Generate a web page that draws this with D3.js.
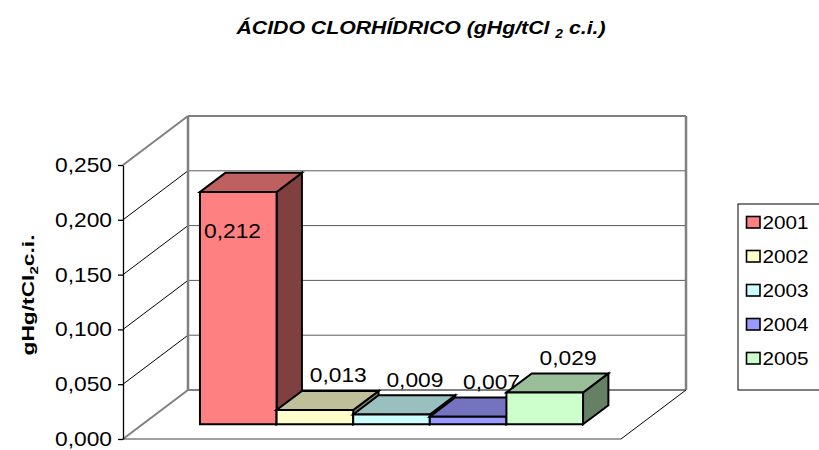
<!DOCTYPE html>
<html>
<head>
<meta charset="utf-8">
<script src="https://cdn.jsdelivr.net/npm/d3@7"></script>
<style>
  html, body { margin: 0; padding: 0; background: #fff; }
  svg { display: block; font-family: "Liberation Sans", Arial, sans-serif; }
</style>
</head>
<body>
<svg id="chart" width="819" height="450"></svg>
<script>
// Series (one per year) for the single category
const years = ["2001", "2002", "2003", "2004", "2005"];
const values = [0.212, 0.013, 0.009, 0.007, 0.029];
const valueLabels = ["0,212", "0,013", "0,009", "0,007", "0,029"];
const frontColors = ["#FF8080", "#FFFFCC", "#CCFFFF", "#9999FF", "#CCFFCC"];
const yTicks = [0, 0.05, 0.1, 0.15, 0.2, 0.25];
const yTickLabels = ["0,000", "0,050", "0,100", "0,150", "0,200", "0,250"];
const category = ["HCl"];

const svg = d3.select("#chart");
const textStretch = 1.14;

// 3D box geometry: front plane plus a depth vector
const depthVec = [65, -49];
const y = d3.scaleLinear().domain([0, 0.25]).range([439, 165]);
const xCat = d3.scaleBand().domain(category).range([123, 621]).paddingOuter(0.15).paddingInner(0);
const xSer = d3.scaleBand().domain(years)
  .range([xCat(category[0]), xCat(category[0]) + xCat.bandwidth()]).padding(0);
const depth = d3.scaleLinear().domain([0, 1]).range([0, 1]);
const barFront = depth(0.30), barBack = depth(0.69), labelDepth = depth(0.66);

const proj = (x, v, f) => [x + f * depthVec[0], y(v) + f * depthVec[1]];
const pts = arr => arr.map(p => p.join(",")).join(" ");
const shade = (c, k) => { const r = d3.rgb(c); return d3.rgb(r.r * k, r.g * k, r.b * k).formatHex(); };

const x0 = 123, x1 = 621;
const wallGray = "#808080";

// Back wall
svg.append("polygon")
  .attr("points", pts([proj(x0, 0, 1), proj(x1, 0, 1), proj(x1, 0.25, 1), proj(x0, 0.25, 1)]))
  .attr("fill", "#fff");

// Back wall gridlines and side wall lines
yTicks.forEach(v => {
  const edge = (v === 0 || v === 0.25);
  svg.append("line")
    .attr("x1", proj(x0, v, 1)[0]).attr("y1", proj(x0, v, 1)[1])
    .attr("x2", proj(x1, v, 1)[0]).attr("y2", proj(x1, v, 1)[1])
    .attr("stroke", edge ? wallGray : "#5a5a5a")
    .attr("stroke-width", edge ? 2 : 1);
  svg.append("line")
    .attr("x1", proj(x0, v, 0)[0]).attr("y1", proj(x0, v, 0)[1])
    .attr("x2", proj(x0, v, 1)[0]).attr("y2", proj(x0, v, 1)[1])
    .attr("stroke", edge ? wallGray : "#000")
    .attr("stroke-width", edge ? 2 : 1);
});
// Back wall vertical edges
[x0, x1].forEach(xx => {
  svg.append("line")
    .attr("x1", proj(xx, 0, 1)[0]).attr("y1", proj(xx, 0, 1)[1])
    .attr("x2", proj(xx, 0.25, 1)[0]).attr("y2", proj(xx, 0.25, 1)[1])
    .attr("stroke", wallGray).attr("stroke-width", 2.5);
});
// Floor front and right edges
svg.append("line")
  .attr("x1", proj(x0, 0, 0)[0]).attr("y1", proj(x0, 0, 0)[1])
  .attr("x2", proj(x1, 0, 0)[0]).attr("y2", proj(x1, 0, 0)[1])
  .attr("stroke", "#404040").attr("stroke-width", 1);
svg.append("line")
  .attr("x1", proj(x1, 0, 0)[0]).attr("y1", proj(x1, 0, 0)[1])
  .attr("x2", proj(x1, 0, 1)[0]).attr("y2", proj(x1, 0, 1)[1])
  .attr("stroke", "#000").attr("stroke-width", 1);

// Bars (drawn left to right so each one hides its neighbour's side face)
years.forEach((yr, i) => {
  const v = values[i];
  const a = xSer(yr), b = a + xSer.bandwidth();
  const g = svg.append("g")
    .attr("stroke", "#000").attr("stroke-width", 2).attr("stroke-linejoin", "miter");
  g.append("polygon")
    .attr("points", pts([proj(b, 0, barFront), proj(b, 0, barBack), proj(b, v, barBack), proj(b, v, barFront)]))
    .attr("fill", shade(frontColors[i], 0.5));
  g.append("polygon")
    .attr("points", pts([proj(a, v, barFront), proj(b, v, barFront), proj(b, v, barBack), proj(a, v, barBack)]))
    .attr("fill", shade(frontColors[i], 0.75));
  g.append("polygon")
    .attr("points", pts([proj(a, 0, barFront), proj(b, 0, barFront), proj(b, v, barFront), proj(a, v, barFront)]))
    .attr("fill", frontColors[i]);
});

// Value labels
const maxV = d3.max(values);
years.forEach((yr, i) => {
  const v = values[i];
  const a = xSer(yr), b = a + xSer.bandwidth();
  let tx, ty, anchor;
  if (v === maxV) {
    const p = proj(a, v, barFront);
    tx = p[0] + 4; ty = p[1] + 46; anchor = "start";
  } else {
    const px = proj((a + b) / 2, v, labelDepth)[0];
    tx = px; ty = proj(a, v, barBack)[1] - 8.5; anchor = "middle";
  }
  svg.append("text")
    .attr("transform", `translate(${tx},${ty}) scale(${textStretch},1)`)
    .attr("text-anchor", anchor)
    .attr("font-size", 20)
    .attr("fill", "#000")
    .text(valueLabels[i]);
});

// Value axis on the front left edge
const axis = d3.axisLeft(y).tickValues(yTicks)
  .tickFormat((d, i) => yTickLabels[i]).tickSize(5).tickSizeOuter(0);
const ax = svg.append("g").attr("transform", `translate(${x0},0)`).call(axis);
ax.select(".domain").attr("stroke", "#000").attr("stroke-width", 1.3);
ax.selectAll(".tick line").attr("stroke", "#000").attr("stroke-width", 1.3);
ax.selectAll(".tick text")
  .attr("x", 0)
  .attr("transform", `translate(-11,0) scale(${textStretch},1)`)
  .attr("font-size", 20)
  .attr("font-family", "Liberation Sans, Arial, sans-serif")
  .attr("fill", "#000");

// Axis title
const yTitle = svg.append("text")
  .attr("transform", `translate(34,295) rotate(-90) scale(1.38,1)`)
  .attr("text-anchor", "middle")
  .attr("font-size", 16.5)
  .attr("font-weight", "bold");
yTitle.append("tspan").text("gHg/tCl");
yTitle.append("tspan").attr("dy", 4).attr("font-size", 11).text("2");
yTitle.append("tspan").attr("dy", -4).text("c.i.");

// Chart title
const title = svg.append("text")
  .attr("transform", `translate(421,34) scale(1.15,1)`)
  .attr("text-anchor", "middle")
  .attr("font-size", 18.5)
  .attr("font-weight", "bold")
  .attr("font-style", "italic");
title.append("tspan").text("ÁCIDO CLORHÍDRICO (gHg/tCl ");
title.append("tspan").attr("dy", 4).attr("font-size", 12).text("2");
title.append("tspan").attr("dy", -4).text(" c.i.)");

// Legend
const legend = svg.append("g");
legend.append("rect")
  .attr("x", 738).attr("y", 204).attr("width", 100).attr("height", 186)
  .attr("fill", "#fff").attr("stroke", "#000").attr("stroke-width", 1);
years.forEach((yr, i) => {
  legend.append("rect")
    .attr("x", 746.5).attr("y", 216.5 + i * 34).attr("width", 13.5).attr("height", 11.5)
    .attr("fill", frontColors[i]).attr("stroke", "#000").attr("stroke-width", 1.6);
  legend.append("text")
    .attr("transform", `translate(762.5,${228.8 + i * 34}) scale(1.12,1)`)
    .attr("font-size", 18.5)
    .text(yr);
});
</script>
</body>
</html>
